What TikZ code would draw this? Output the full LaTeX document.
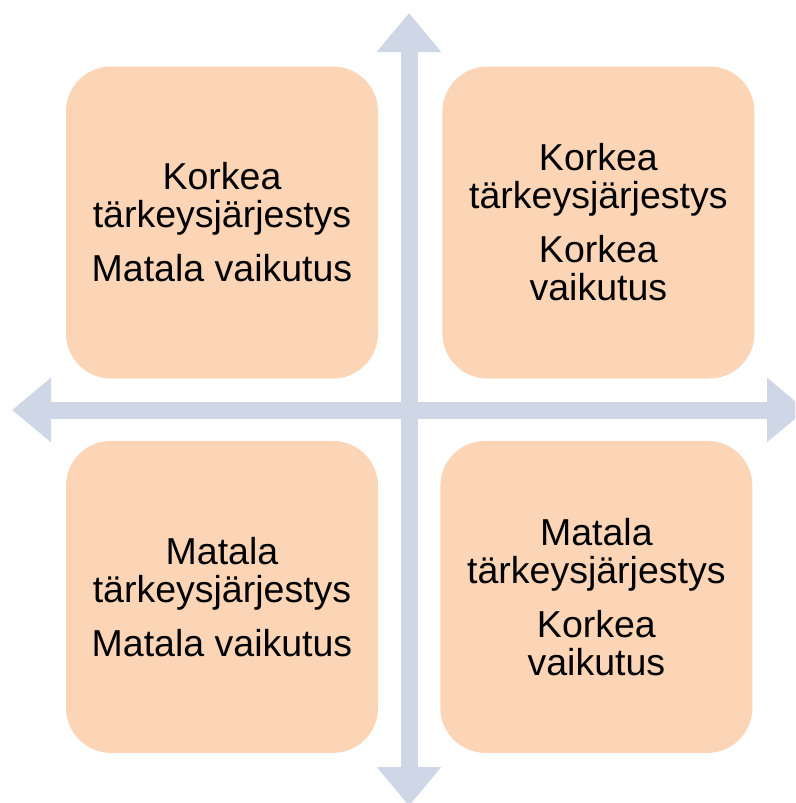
\documentclass[tikz,border=0pt]{standalone}
\usepackage{fontspec}
\setmainfont{Liberation Sans}
\usetikzlibrary{arrows.meta,positioning}
\definecolor{peach}{RGB}{251,213,181}
\definecolor{axisblue}{RGB}{207,214,229}

\begin{document}
\begin{tikzpicture}[x=1pt,y=-1pt,
    quad/.style={fill=peach,rounded corners=45pt,minimum width=312pt,minimum height=312pt,
                 inner sep=0pt,align=center,font=\fontsize{37.5}{38}\selectfont},
    axis/.style={draw=axisblue,line width=17pt,
                 {Triangle[width=62pt,length=39pt]}-{Triangle[width=62pt,length=39pt]}}]
        \clip (0,0) rectangle (795,803);
        % axes
        \draw[axis] (409,13) -- (409,806);
        \draw[axis] (12,410) -- (806,410);
        % quadrants
        \node[quad] (hl) at (222,222.5)    {Korkea\\tärkeysjärjestys\\[16pt]Matala vaikutus};
        \node[quad] (hh) [right=64pt of hl] {Korkea\\tärkeysjärjestys\\[16pt]Korkea\\vaikutus};
        \node[quad] (ll) [below=62pt of hl] {Matala\\tärkeysjärjestys\\[16pt]Matala vaikutus};
        \node[quad] (lh) [right=62pt of ll] {Matala\\tärkeysjärjestys\\[16pt]Korkea\\vaikutus};
\end{tikzpicture}
\end{document}
